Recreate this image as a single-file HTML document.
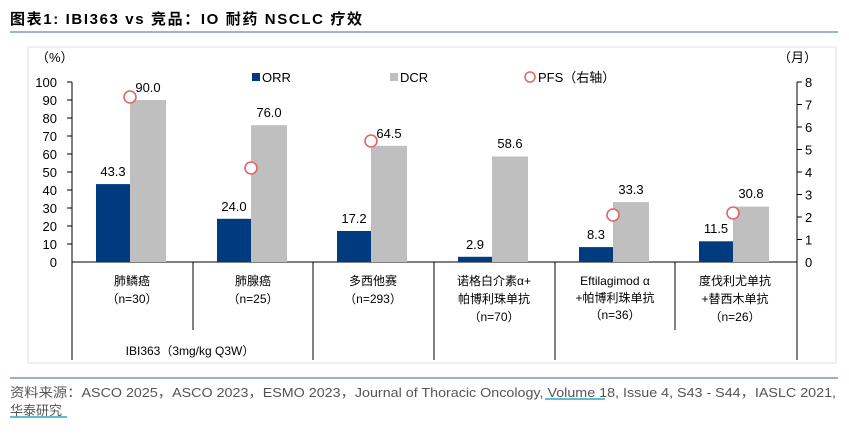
<!DOCTYPE html>
<html><head><meta charset="utf-8"><style>
body{margin:0;background:#fff;width:849px;height:429px;overflow:hidden;font-family:"Liberation Sans","Noto Sans CJK SC",sans-serif;}
</style></head><body>
<svg width="849" height="429" xmlns="http://www.w3.org/2000/svg" font-family="Liberation Sans, Noto Sans CJK SC, sans-serif">
<text x="10" y="24" font-size="15" font-weight="bold" fill="#000" textLength="352" lengthAdjust="spacing">图表1:  IBI363 vs  竞品：IO 耐药 NSCLC 疗效</text>
<line x1="10" y1="32" x2="838" y2="32" stroke="#7f9cc0" stroke-width="1.5"/>
<rect x="28" y="47" width="808" height="316" fill="none" stroke="#e0e0e0"/>
<text x="36" y="62" font-size="13">（%）</text>
<text x="778" y="62" font-size="13">（月）</text>
<g font-size="13" text-anchor="end">
<text x="57" y="267">0</text><text x="57" y="249">10</text><text x="57" y="231">20</text><text x="57" y="213">30</text><text x="57" y="195">40</text><text x="57" y="177">50</text><text x="57" y="159">60</text><text x="57" y="141">70</text><text x="57" y="123">80</text><text x="57" y="105">90</text><text x="57" y="87">100</text>
</g>
<g font-size="13">
<text x="805" y="267">0</text><text x="805" y="244.5">1</text><text x="805" y="222">2</text><text x="805" y="199.5">3</text><text x="805" y="177">4</text><text x="805" y="154.5">5</text><text x="805" y="132">6</text><text x="805" y="109.5">7</text><text x="805" y="87">8</text>
</g>
<g stroke="#000" stroke-width="1">
<line x1="72" y1="82" x2="72" y2="360"/><line x1="797" y1="82" x2="797" y2="360"/>
<line x1="72" y1="262" x2="797" y2="262"/>
<line x1="67" y1="82" x2="72" y2="82"/><line x1="67" y1="100" x2="72" y2="100"/><line x1="67" y1="118" x2="72" y2="118"/><line x1="67" y1="136" x2="72" y2="136"/><line x1="67" y1="154" x2="72" y2="154"/><line x1="67" y1="172" x2="72" y2="172"/><line x1="67" y1="190" x2="72" y2="190"/><line x1="67" y1="208" x2="72" y2="208"/><line x1="67" y1="226" x2="72" y2="226"/><line x1="67" y1="244" x2="72" y2="244"/>
<line x1="797" y1="82" x2="802" y2="82"/><line x1="797" y1="104.5" x2="802" y2="104.5"/><line x1="797" y1="127" x2="802" y2="127"/><line x1="797" y1="149.5" x2="802" y2="149.5"/><line x1="797" y1="172" x2="802" y2="172"/><line x1="797" y1="194.5" x2="802" y2="194.5"/><line x1="797" y1="217" x2="802" y2="217"/><line x1="797" y1="239.5" x2="802" y2="239.5"/>
<line x1="193" y1="262" x2="193" y2="330"/>
<line x1="313" y1="262" x2="313" y2="360"/><line x1="434" y1="262" x2="434" y2="360"/><line x1="555" y1="262" x2="555" y2="360"/><line x1="675" y1="262" x2="675" y2="330"/>
</g>
<g fill="#003a7f">
<rect x="96" y="184.1" width="34" height="77.9"/>
<rect x="217" y="218.8" width="34" height="43.2"/>
<rect x="337" y="231" width="34" height="31"/>
<rect x="458" y="256.8" width="34" height="5.2"/>
<rect x="579" y="247.1" width="34" height="14.9"/>
<rect x="699" y="241.3" width="34" height="20.7"/>
</g>
<g fill="#bfbfbf">
<rect x="130" y="100" width="36" height="162"/>
<rect x="251" y="125.2" width="36" height="136.8"/>
<rect x="371" y="145.9" width="36" height="116.1"/>
<rect x="492" y="156.5" width="36" height="105.5"/>
<rect x="613" y="202.1" width="36" height="59.9"/>
<rect x="733" y="206.6" width="36" height="55.4"/>
</g>
<g font-size="13" text-anchor="middle">
<text x="113" y="176">43.3</text><text x="148" y="92">90.0</text>
<text x="234" y="211">24.0</text><text x="269" y="117">76.0</text>
<text x="354" y="223">17.2</text><text x="389" y="138">64.5</text>
<text x="475" y="249">2.9</text><text x="510" y="148">58.6</text>
<text x="596" y="239">8.3</text><text x="631" y="194">33.3</text>
<text x="716" y="233">11.5</text><text x="751" y="198">30.8</text>
</g>
<g fill="#fff" stroke="#e06666" stroke-width="1.6">
<circle cx="130" cy="97" r="6"/><circle cx="251" cy="168" r="6"/><circle cx="371" cy="141" r="6"/><circle cx="613" cy="215" r="6"/><circle cx="733" cy="213" r="6"/>
</g>
<rect x="252" y="73" width="8" height="8" fill="#003a7f"/><text x="262" y="82" font-size="13">ORR</text>
<rect x="390" y="73" width="8" height="8" fill="#bfbfbf"/><text x="400" y="82" font-size="13">DCR</text>
<circle cx="530" cy="77" r="5" fill="#fff" stroke="#e06666" stroke-width="1.5"/><text x="538" y="82" font-size="13">PFS（右轴）</text>
<g font-size="12" text-anchor="middle">
<text x="132" y="285">肺鳞癌</text><text x="132" y="303">（n=30）</text>
<text x="253" y="285">肺腺癌</text><text x="253" y="303">（n=25）</text>
<text x="373" y="285">多西他赛</text><text x="373" y="303">（n=293）</text>
<text x="494" y="285">诺格白介素α+</text><text x="494" y="303">帕博利珠单抗</text><text x="494" y="321">（n=70）</text>
<text x="615" y="285">Eftilagimod α</text><text x="615" y="302">+帕博利珠单抗</text><text x="615" y="319">（n=36）</text>
<text x="735" y="285">度伐利尤单抗</text><text x="735" y="303">+替西木单抗</text><text x="735" y="321">（n=26）</text>
<text x="190" y="355">IBI363（3mg/kg Q3W）</text>
</g>
<line x1="10" y1="378" x2="838" y2="378" stroke="#9db0c8" stroke-width="2"/>
<text x="10" y="397" font-size="13" fill="#555" textLength="826" lengthAdjust="spacingAndGlyphs">资料来源：ASCO 2025，ASCO 2023，ESMO 2023，Journal of Thoracic Oncology, Volume 18, Issue 4, S43 - S44，IASLC 2021,</text>
<line x1="545" y1="399" x2="605" y2="399" stroke="#2aa5c8" stroke-width="1.5"/>
<text x="10" y="415" font-size="13" fill="#555">华泰研究</text>
<line x1="10" y1="417" x2="67" y2="417" stroke="#2aa5c8" stroke-width="1.5"/>
</svg>
</body></html>
